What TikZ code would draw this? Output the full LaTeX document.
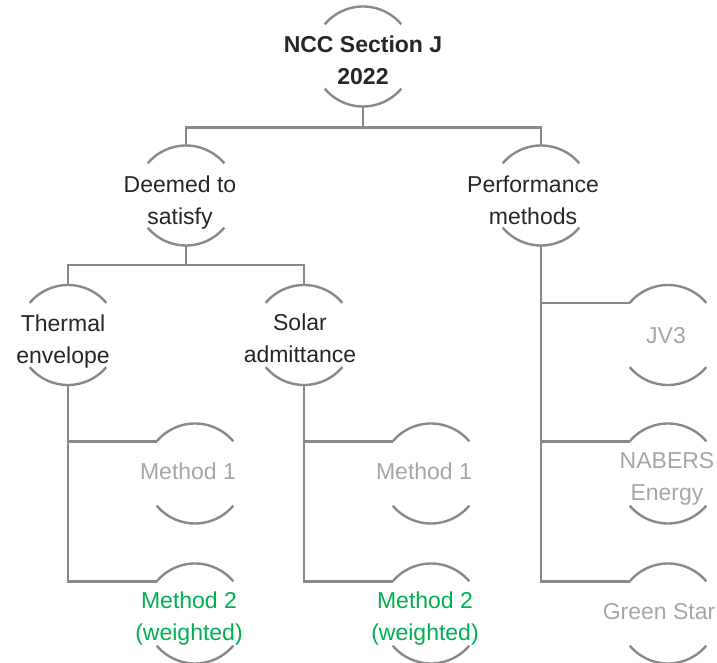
\documentclass[tikz,border=0pt]{standalone}
\usepackage{fontspec}
\setmainfont{Liberation Sans}
\usetikzlibrary{calc}

\definecolor{linegray}{HTML}{898989}
\definecolor{textdark}{HTML}{262626}
\definecolor{textlight}{HTML}{A6A6A6}
\definecolor{textgreen}{HTML}{00B050}

\begin{document}
\begin{tikzpicture}[x=1pt,y=1pt,
    link/.style={draw=linegray,line width=2.4pt},
    arcline/.style={draw=linegray,line width=2.4pt},
    lbl/.style={font=\fontsize{23}{32}\selectfont,align=center,inner sep=0pt,text=textdark},
    head/.style={lbl,font=\bfseries\fontsize{23}{32}\selectfont},
    off/.style={lbl,text=textlight},
    pick/.style={lbl,text=textgreen}]
    \useasboundingbox (0,0) rectangle (717,663);

    % Circle centres
    \coordinate (ncc) at (363,606.5);
    \coordinate (deemed) at (186,467.5);
    \coordinate (perf) at (541,467.5);
    \coordinate (thermal) at (68,328);
    \coordinate (solar) at (304,328);
    \coordinate (jv3) at (668,328);
    \coordinate (m1a) at (195,189.5);
    \coordinate (m1b) at (431,189.5);
    \coordinate (nabers) at (668,189.5);
    \coordinate (m2a) at (195,49.5);
    \coordinate (m2b) at (431,49.5);
    \coordinate (green) at (668,49.5);

    % Arcs above and below each centre
    \foreach \c in {ncc,deemed,perf,thermal,solar,jv3,m1a,m1b,nabers,m2a,m2b,green}{
        \draw[arcline] ($(\c)+(40:50)$) arc[start angle=40,end angle=140,radius=50];
        \draw[arcline] ($(\c)+(220:50)$) arc[start angle=220,end angle=320,radius=50];
        \coordinate (\c-top) at ($(\c)+(0,50)$);
        \coordinate (\c-bot) at ($(\c)+(0,-50)$);
        \coordinate (\c-in) at ($(\c)+(140:50)$);
    }

    % Labels
    \node[head] (ncc-lbl) at ([yshift=-4]ncc) {NCC Section J\\2022};
    \node[lbl] (deemed-lbl) at ([xshift=-6,yshift=-7]deemed) {Deemed to\\satisfy};
    \node[lbl] (perf-lbl) at ([xshift=-8,yshift=-5]perf) {Performance\\methods};
    \node[lbl] (thermal-lbl) at ([xshift=-5,yshift=-7]thermal) {Thermal\\envelope};
    \node[lbl] (solar-lbl) at ([xshift=-4,yshift=-3]solar) {Solar\\admittance};
    \node[off] (jv3-lbl) at ([xshift=-2,yshift=-1]jv3) {JV3};
    \node[off] (m1a-lbl) at ([xshift=-7,yshift=2]m1a) {Method 1};
    \node[off] (m1b-lbl) at ([xshift=-7,yshift=2]m1b) {Method 1};
    \node[off] (nabers-lbl) at ([xshift=-1,yshift=-5]nabers) {NABERS\\Energy};
    \node[pick] (m2a-lbl) at ([xshift=-6,yshift=-5]m2a) {Method 2\\(weighted)};
    \node[pick] (m2b-lbl) at ([xshift=-6,yshift=-5]m2b) {Method 2\\(weighted)};
    \node[off] (green-lbl) at ([xshift=-9,yshift=2]green) {Green Star};

    % Top level
    \draw[link] (ncc-bot) -- ++(0,-21) coordinate (j1);
    \draw[link] (deemed-top) |- (j1) -| (perf-top);

    % Deemed to satisfy
    \draw[link] (deemed-bot) -- ++(0,-19.5) coordinate (j2);
    \draw[link] (thermal-top) |- (j2) -| (solar-top);
    \draw[link] (thermal-bot) |- (m2a-in);
    \draw[link] (thermal-bot |- m1a-in) -- (m1a-in);
    \draw[link] (solar-bot) |- (m2b-in);
    \draw[link] (solar-bot |- m1b-in) -- (m1b-in);

    % Performance methods
    \draw[link] (perf-bot) |- (green-in);
    \draw[link] (perf-bot |- jv3-in) -- (jv3-in);
    \draw[link] (perf-bot |- nabers-in) -- (nabers-in);
\end{tikzpicture}
\end{document}
